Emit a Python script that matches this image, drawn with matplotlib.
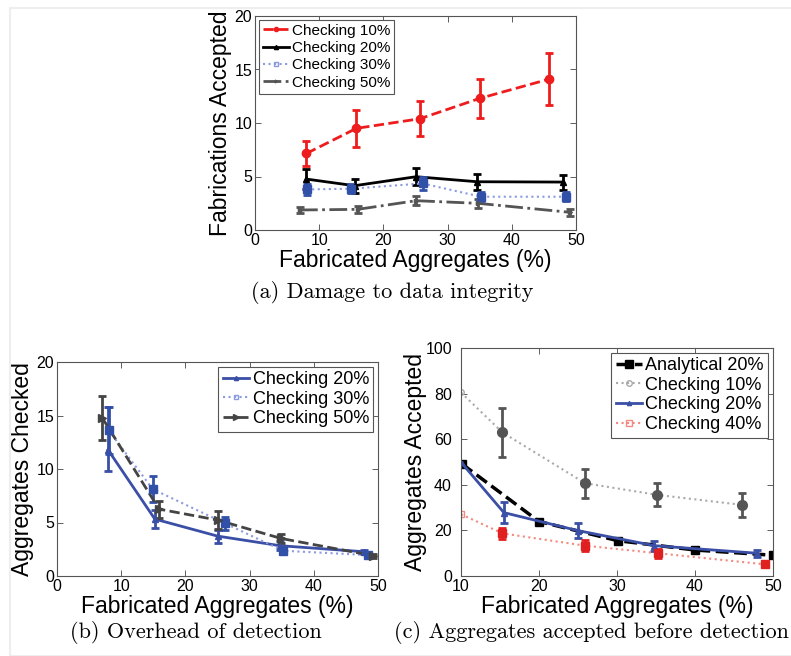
import matplotlib
matplotlib.use('Agg')
import matplotlib.pyplot as plt
from matplotlib.patches import Rectangle

plt.rcParams['font.family'] = ['Liberation Sans', 'DejaVu Sans']

# (a) Damage to data integrity
a10_x = [8.0, 15.8, 25.7, 35.0, 45.8]
a10_y = [7.15, 9.5, 10.4, 12.3, 14.1]
a10_e = [1.15, 1.7, 1.65, 1.8, 2.4]

a20_x = [8.0, 15.5, 25.1, 34.6, 47.9]
a20_y = [4.76, 4.14, 4.98, 4.51, 4.48]
a20_e = [0.9, 0.65, 0.8, 0.75, 0.7]

a30_x = [8.05, 15.0, 26.1, 35.2, 48.4]
a30_y = [3.79, 3.86, 4.35, 3.11, 3.11]
a30_e = [0.5, 0.4, 0.6, 0.4, 0.4]

a50_x = [7.0, 16.0, 25.1, 34.8, 49.1]
a50_y = [1.87, 1.93, 2.74, 2.49, 1.65]
a50_e = [0.3, 0.3, 0.4, 0.4, 0.3]

# (b) Overhead of detection  (lower / upper error)
b20_x = [7.96, 15.24, 25.0, 34.75, 47.8]
b20_y = [11.78, 5.32, 3.73, 2.83, 2.27]
b20_lo = [2.0, 0.85, 0.6, 0.4, 0.2]
b20_hi = [4.0, 0.85, 0.6, 0.4, 0.2]

b30_x = [8.06, 14.9, 26.2, 35.2, 48.4]
b30_y = [13.6, 8.12, 4.91, 2.36, 1.96]
b30_lo = [2.2, 1.2, 0.6, 0.3, 0.2]
b30_hi = [2.2, 1.2, 0.6, 0.3, 0.2]

b50_x = [7.08, 15.9, 25.0, 34.9, 49.2]
b50_y = [14.75, 6.25, 5.23, 3.51, 1.9]
b50_lo = [2.05, 0.8, 0.8, 0.45, 0.2]
b50_hi = [2.05, 0.8, 0.8, 0.45, 0.2]

# (c) Aggregates accepted before detection
an20_x = [10.1, 20.0, 30.1, 40.0, 50.0]
an20_y = [49.2, 23.9, 15.5, 11.4, 9.1]

c10_x = [10.0, 15.3, 25.9, 35.1, 46.0]
c10_y = [80.5, 63.0, 40.7, 35.6, 31.2]
c10_e = [0.0, 10.6, 6.3, 5.1, 5.2]

c20_x = [10.1, 15.5, 25.0, 34.8, 47.9]
c20_y = [49.5, 27.8, 19.9, 13.3, 10.0]
c20_e = [0.0, 4.6, 3.3, 2.2, 1.6]

c40_x = [10.0, 15.3, 25.9, 35.2, 49.0]
c40_y = [27.1, 18.7, 13.3, 10.0, 5.1]
c40_e = [0.0, 2.5, 2.5, 2.0, 0.8]

TICK = 11.5
LAB = 16.5
CAP = 16


def style_axes(ax, xlim, ylim, xticks, yticks, xpad=2, ypad=2):
    ax.set_xlim(*xlim)
    ax.set_ylim(*ylim)
    ax.set_xticks(xticks)
    ax.set_yticks(yticks)
    ax.tick_params(direction='in', top=True, right=True, labelsize=TICK,
                   length=4, width=0.6, color='#444444')
    ax.tick_params(axis='x', pad=xpad)
    ax.tick_params(axis='y', pad=ypad)
    for s in ax.spines.values():
        s.set_color('#555555')
        s.set_linewidth(0.8)
    ax.set_xlabel('Fabricated Aggregates (%)', fontsize=LAB, labelpad=1)


def series(ax, x, y, e, color, ls, marker, label, ecolor=None, lcolor=None,
           ms=6, lms=4, mfc_line=None, skip=0):
    lc = lcolor if lcolor else color
    ax.plot(x, y, color=lc, ls=ls, lw=2 if ls in ('-', '--', '-.') else 1.5,
            marker=marker, ms=lms, mfc=mfc_line if mfc_line else lc,
            mec=lc, label=label)
    ec = ecolor if ecolor else color
    if isinstance(e, tuple):
        err = [e[0][skip:], e[1][skip:]]
    else:
        err = e[skip:]
    ax.errorbar(x[skip:], y[skip:], yerr=err, fmt=marker,
                color=ec, ms=ms, elinewidth=2, capsize=3, capthick=2,
                mfc=ec, mec=ec)


def make_legend(ax, size, hl):
    leg = ax.legend(loc='upper left' if size < 12 else 'upper right',
                    fontsize=size, fancybox=False, edgecolor='#555555',
                    framealpha=1, handlelength=hl, handletextpad=0.2,
                    borderpad=0.25, labelspacing=0.22 if size < 12 else 0.15,
                    borderaxespad=0.25)
    leg.get_frame().set_linewidth(0.8)


fig = plt.figure(figsize=(7.91, 6.56), dpi=100)
fig.patches.append(Rectangle((10 / 791, 0), 2, 1 - 8 / 656, transform=fig.transFigure,
                             fill=False, edgecolor='#eeeeee', lw=1.5))

# ---- (a)
ax = fig.add_axes([255 / 791, 1 - 230 / 656, 321 / 791, 214 / 656])
series(ax, a10_x, a10_y, a10_e, '#ee1c1c', '--', 'o', 'Checking 10%', ms=6, lms=3)
series(ax, a20_x, a20_y, a20_e, 'black', '-', '^', 'Checking 20%', ms=5, lms=3)
series(ax, a30_x, a30_y, a30_e, '#3150a8', ':', 's', 'Checking 30%',
       lcolor='#8b9be0', ms=6, lms=3, mfc_line='none')
series(ax, a50_x, a50_y, a50_e, '#555555', '-.', '>', 'Checking 50%', ms=3, lms=2)
style_axes(ax, (0, 50), (0, 20), range(0, 51, 10), range(0, 21, 5))
ax.set_ylabel('Fabrications Accepted', fontsize=LAB, labelpad=2)
make_legend(ax, 11, 1.7)
fig.text(392 / 791, 1 - 293 / 656, '(a) Damage to data integrity', family='cmr10',
         fontsize=CAP, ha='center', va='center')

# ---- (b)
ax = fig.add_axes([57 / 791, 1 - 576 / 656, 321 / 791, 214 / 656])
series(ax, b20_x, b20_y, (b20_lo, b20_hi), '#3a4fa5', '-', '^', 'Checking 20%',
       ms=5, lms=3)
series(ax, b30_x, b30_y, (b30_lo, b30_hi), '#3150a8', ':', 's', 'Checking 30%',
       lcolor='#8b9be0', ms=6, lms=3, mfc_line='none')
series(ax, b50_x, b50_y, (b50_lo, b50_hi), '#444444', '--', '>', 'Checking 50%',
       ms=6, lms=4)
style_axes(ax, (0, 50), (0, 20), range(0, 51, 10), range(0, 21, 5))
ax.set_ylabel('Aggregates Checked', fontsize=LAB, labelpad=2)
make_legend(ax, 13, 1.45)
fig.text(196 / 791, 1 - 632 / 656, '(b) Overhead of detection', family='cmr10',
         fontsize=CAP, ha='center', va='center')

# ---- (c)
ax = fig.add_axes([461 / 791, 1 - 576 / 656, 312 / 791, 228 / 656])
ax.plot(an20_x, an20_y, color='black', ls='--', lw=2.5, marker='s', ms=6,
        label='Analytical 20%')
series(ax, c10_x, c10_y, c10_e, '#555555', ':', 'o', 'Checking 10%',
       lcolor='#aaaaaa', ms=7, lms=4, mfc_line='none', skip=1)
series(ax, c20_x, c20_y, c20_e, '#3a4fa5', '-', '^', 'Checking 20%', ms=5, lms=3,
       skip=1)
series(ax, c40_x, c40_y, c40_e, '#e02020', ':', 's', 'Checking 40%',
       lcolor='#f28a80', ms=6, lms=4, mfc_line='none', skip=1)
style_axes(ax, (10, 50), (0, 100), range(10, 51, 10), range(0, 101, 20), ypad=6.5)
ax.set_ylabel('Aggregates Accepted', fontsize=LAB, labelpad=-1.5)
make_legend(ax, 13, 1.45)
fig.text(591 / 791, 1 - 632 / 656, '(c) Aggregates accepted before detection',
         family='cmr10', fontsize=CAP, ha='center', va='center')

fig.savefig('out.png', dpi=100)
